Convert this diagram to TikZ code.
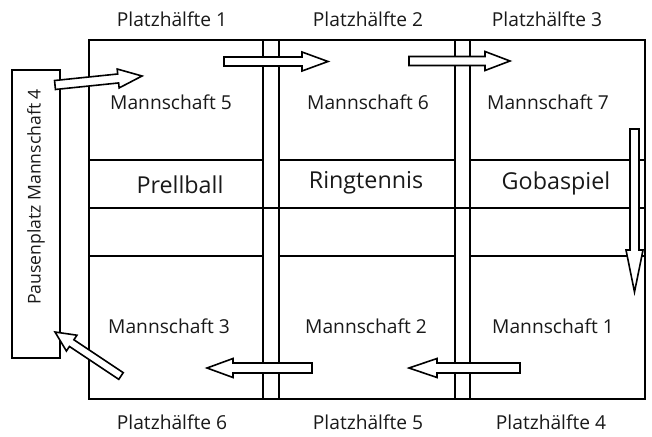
\documentclass[tikz,border=0pt]{standalone}
\usepackage{fontspec}
\setmainfont{Open Sans}
\newcommand\blkarrow[7]{%
  \draw[barrow, shift={(#1,#2)}, rotate=#3] (0,-#6) -- ({#4-#5},-#6) -- ({#4-#5},-#7) -- (#4,0) -- ({#4-#5},#7) -- ({#4-#5},#6) -- (0,#6) -- cycle;}
\begin{document}
\begin{tikzpicture}[x=1pt,y=-1pt,
  court/.style={line width=2pt},
  netline/.style={line width=1.8pt},
  barrow/.style={draw, line width=1.6pt, fill=white, line join=miter},
  lbl/.style={font=\fontsize{19.2}{22}\selectfont, inner sep=0pt, text=black!90},
  team/.style={font=\fontsize{19.2}{22}\selectfont, inner sep=0pt, text=black!90},
  pausetxt/.style={font=\fontsize{17.6}{20}\selectfont, inner sep=0pt, text=black!90},
  game/.style={font=\fontsize{23.3}{27}\selectfont, inner sep=0pt, text=black!90}]
\useasboundingbox (0,0) rectangle (652,436);
% court
\draw[court] (89,40) rectangle (645,399);
% horizontal lines
\draw[netline] (89,160) -- (263,160) (279,160) -- (455,160) (470,160) -- (645,160);
\draw[netline] (89,208) -- (645,208);
\draw[netline] (89,256) -- (263,256) (279,256) -- (455,256) (470,256) -- (645,256);
% nets
\draw[netline] (263,40) -- (263,399) (279,40) -- (279,399);
\draw[netline] (455,40) -- (455,399) (470,40) -- (470,399);
% pause box
\draw[court] (12,70) rectangle (60,358);
\node[pausetxt, rotate=90] (pause) at (36,197) {Pausenplatz Mannschaft 4};
% labels
\node[lbl] (p1) at (172,19) {Platzhälfte 1};
\node[lbl] (p2) at (368,19) {Platzhälfte 2};
\node[lbl] (p3) at (547,19) {Platzhälfte 3};
\node[lbl] (p6) at (172,422) {Platzhälfte 6};
\node[lbl] (p5) at (368,422) {Platzhälfte 5};
\node[lbl] (p4) at (551,422) {Platzhälfte 4};
\node[team] (m5) at (171,102) {Mannschaft 5};
\node[team] (m6) at (368,102) {Mannschaft 6};
\node[team] (m7) at (548,102) {Mannschaft 7};
\node[team] (m3) at (169,326) {Mannschaft 3};
\node[team] (m2) at (366,326) {Mannschaft 2};
\node[team] (m1) at (553,326) {Mannschaft 1};
\node[game] (g1) at (180,185) {Prellball};
\node[game] (g2) at (366,183) {Ringtennis};
\node[game] (g3) at (556,183) {Gobaspiel};
% arrows
\blkarrow{55}{85}{5.9}{87.5}{24}{4.5}{9.5}
\blkarrow{224}{61.5}{0}{104}{26}{4.5}{9.5}
\blkarrow{409}{61}{0}{101}{25}{4.5}{9.5}
\blkarrow{634.5}{129}{-90}{163}{42}{4.5}{8.5}
\blkarrow{520}{368}{180}{111}{28}{5}{9.5}
\blkarrow{312}{368}{180}{105}{26}{5}{9.5}
\blkarrow{121}{376}{146.3}{79.3}{20}{4}{9.5}
\end{tikzpicture}
\end{document}
